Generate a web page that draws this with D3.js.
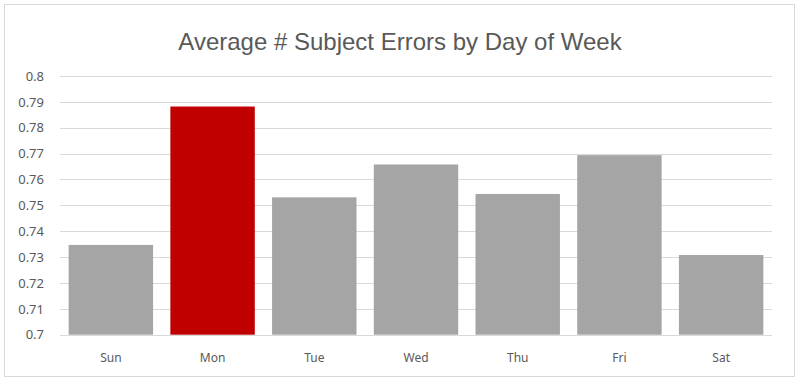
<!DOCTYPE html>
<html><head><meta charset="utf-8">
<script src="https://cdn.jsdelivr.net/npm/d3@7"></script>
<style>body{margin:0;background:#fff}</style>
</head><body>
<svg id="c" width="800" height="383"></svg>
<script>
const days = ["Sun","Mon","Tue","Wed","Thu","Fri","Sat"];
const values = [0.7347, 0.7882, 0.7531, 0.7658, 0.7544, 0.7694, 0.7308];
const highlight = ["Mon"];
const yTicks = [0.7,0.71,0.72,0.73,0.74,0.75,0.76,0.77,0.78,0.79,0.8];
const title = "Average # Subject Errors by Day of Week";

const svg = d3.select("#c");
svg.append("rect").attr("x",4.5).attr("y",4.5).attr("width",790).attr("height",372)
  .attr("fill","#fff").attr("stroke","#D9D9D9");
const x = d3.scaleBand().domain(days).range([60,772]).paddingInner(0.17).paddingOuter(0.085);
const y = d3.scaleLinear().domain([0.7,0.8]).range([334.7,76]);

svg.append("g").selectAll("line").data(yTicks).join("line")
  .attr("x1",60).attr("x2",772).attr("y1",d=>Math.round(y(d))+0.5).attr("y2",d=>Math.round(y(d))+0.5)
  .attr("stroke","#D9D9D9").attr("stroke-width",1);

svg.append("g").selectAll("rect").data(days).join("rect")
  .attr("x",d=>x(d)).attr("width",x.bandwidth())
  .attr("y",(d,i)=>y(values[i])).attr("height",(d,i)=>y(0.7)-y(values[i]))
  .attr("fill",d=>highlight.includes(d)?"#C00000":"#A5A5A5");

const yAxis = d3.axisLeft(y).tickValues(yTicks).tickFormat(d=>d3.format("")(+d.toFixed(2))).tickSize(0).tickPadding(0);
const ga = svg.append("g").attr("transform","translate(44,0)").call(yAxis);
ga.select(".domain").remove();
ga.selectAll("text").attr("fill","#595959").style("font-family","'Noto Sans', sans-serif").style("font-size","13px");

const xAxis = d3.axisBottom(x).tickSize(0).tickPadding(0);
const gx = svg.append("g").attr("transform","translate(0,353)").call(xAxis);
gx.select(".domain").remove();
gx.selectAll("text").attr("fill","#595959").style("font-family","'Noto Sans', sans-serif").style("font-size","12px");

svg.append("text").attr("x",400).attr("y",50).attr("text-anchor","middle")
  .attr("fill","#595959").style("font-family","'Liberation Sans', Arial, sans-serif").style("font-size","24px")
  .text(title);
</script>
</body></html>
